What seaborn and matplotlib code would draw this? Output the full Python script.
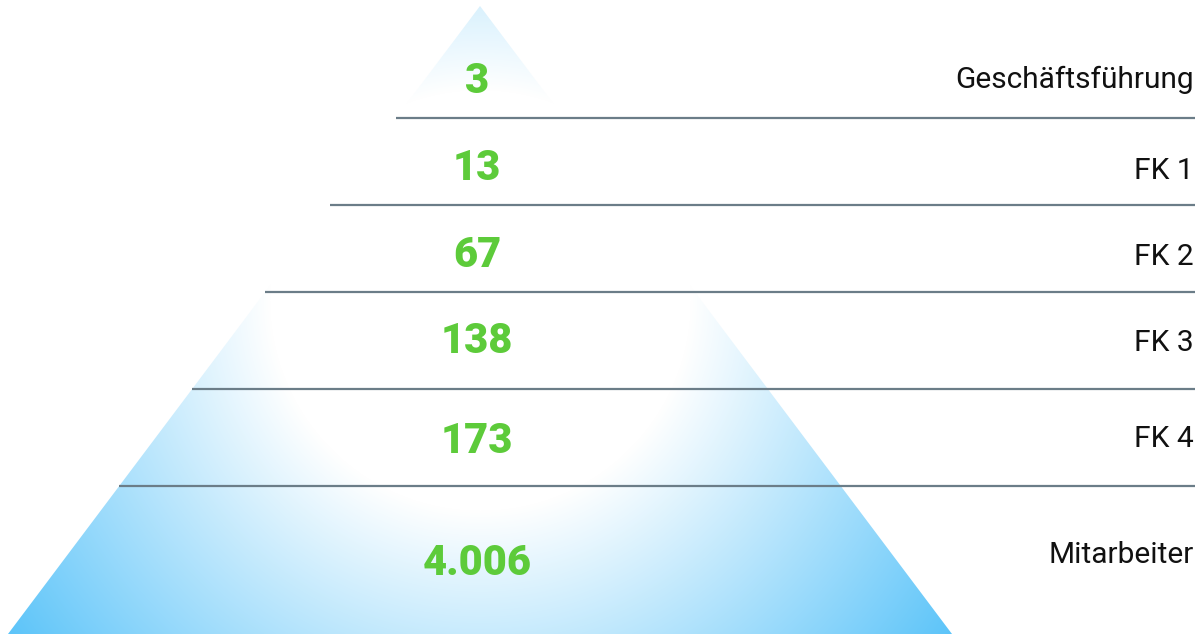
import numpy as np
import matplotlib
matplotlib.use("Agg")
import matplotlib.pyplot as plt
from matplotlib.patches import Polygon
from matplotlib.colors import to_rgb
import seaborn as sns

# levels of the pyramid, top to bottom
levels = ["Geschäftsführung", "FK 1", "FK 2", "FK 3", "FK 4", "Mitarbeiter"]
counts = [3, 13, 67, 138, 173, 4006]
# separator rows between the levels
boundaries = [118, 205, 292, 389, 486]

# text baselines (pixel rows)
num_base = [93, 180, 267, 353, 453, 575]
lab_base = [88, 179, 265, 351, 447, 563]

sns.set_style("white")
plt.rcParams['font.family'] = ['Roboto', 'DejaVu Sans']

W, H = 1204, 634
fig = plt.figure(figsize=(W / 100, H / 100), dpi=100)
ax = fig.add_axes([0, 0, 1, 1])
ax.set_xlim(0, W)
ax.set_ylim(H, 0)
ax.axis("off")

# triangle with radial gradient (white in the middle, blue at the corners)
apex = (480, 6)
left = (8, 634)
right = (952, 634)
tri = Polygon([apex, left, right], closed=True, facecolor="none", edgecolor="none")
ax.add_patch(tri)

yy, xx = np.mgrid[0:H, 0:W]
r = np.hypot(xx - 480, yy - 300)
t = np.clip((r - 210) / 368, 0, 1)
c0 = np.array(to_rgb("#ffffff"))
c1 = np.array(to_rgb("#5cc4f9"))
img = c0[None, None, :] * (1 - t[..., None]) + c1[None, None, :] * t[..., None]
im = ax.imshow(img, extent=(0, W, H, 0), interpolation="bilinear", zorder=1)
im.set_clip_path(tri)


def left_edge(y):
    return apex[0] + (left[0] - apex[0]) * (y - apex[1]) / (left[1] - apex[1])


# separator lines
for b in boundaries:
    ax.hlines(b, left_edge(b), 1195, color="#6b7d88", linewidth=1.6, zorder=2)

# numbers and labels
for name, n, nb, lb in zip(levels, counts, num_base, lab_base):
    label = f"{n:,}".replace(",", ".")
    ax.text(477, nb, label, ha="center", va="baseline", fontsize=30,
            fontweight="black", color="#5dcb3a", zorder=3)
    ax.text(1194, lb, name, ha="right", va="baseline", fontsize=21.5,
            color="#111111", zorder=3)

fig.savefig("out.png", dpi=100)
